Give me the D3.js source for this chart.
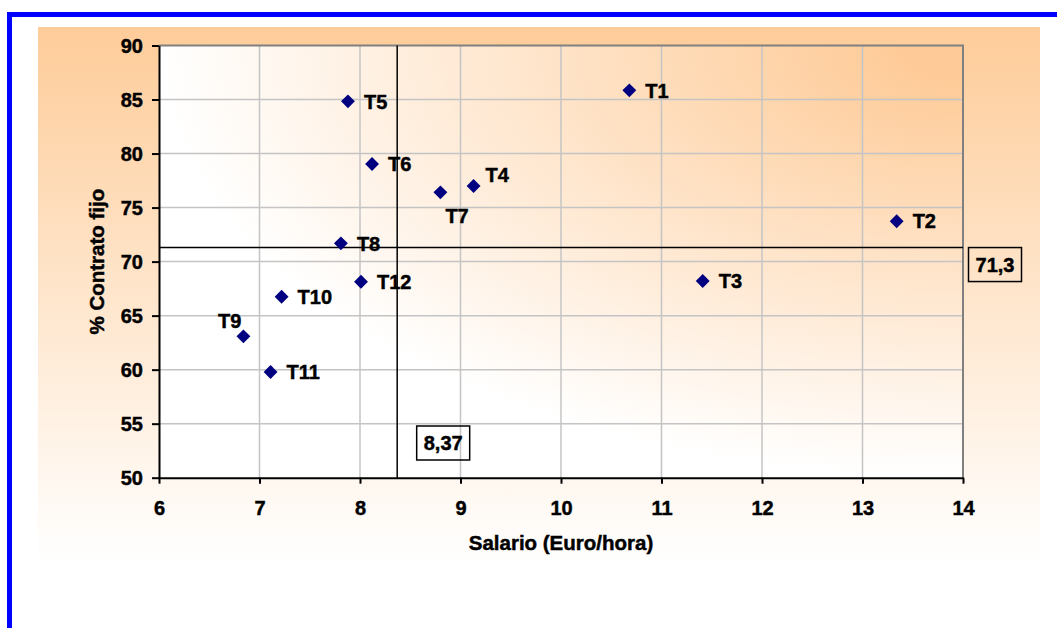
<!DOCTYPE html>
<html>
<head>
<meta charset="utf-8">
<script src="https://cdn.jsdelivr.net/npm/d3@7"></script>
<style>
  body { margin: 0; background: #fff; }
  svg { display: block; }
  svg text { font-family: Arial, "Liberation Sans", sans-serif; font-weight: bold; fill: #000; stroke: #000; stroke-width: 0.45px; }
</style>
</head>
<body>
<svg id="chart" width="1057" height="628"></svg>
<script>
// Titulaciones: salario medio (euro/hora) y % con contrato fijo
const titulaciones = ["T1", "T2", "T3", "T4", "T5", "T6", "T7", "T8", "T9", "T10", "T11", "T12"];
const salario = [10.68, 13.34, 11.41, 9.13, 7.88, 8.12, 8.80, 7.81, 6.84, 7.22, 7.11, 8.01];
const contratoFijo = [85.85, 73.73, 68.2, 77.0, 84.83, 79.03, 76.41, 71.69, 63.08, 66.75, 59.78, 68.14];
// where each label sits relative to its point
const posEtiqueta = ["right", "right", "right", "aboveRight", "right", "right", "below", "right", "aboveLeft", "right", "right", "right"];

const xTicks = [6, 7, 8, 9, 10, 11, 12, 13, 14];
const yTicks = [50, 55, 60, 65, 70, 75, 80, 85, 90];

// average values drawn as reference lines
const salarioMedio = 8.37;
const contratoMedio = 71.3;

const svg = d3.select("#chart");
const defs = svg.append("defs");

const bgGrad = defs.append("linearGradient")
  .attr("id", "bgGrad").attr("x1", 0).attr("y1", 0).attr("x2", 0).attr("y2", 1);
bgGrad.append("stop").attr("offset", "0%").attr("stop-color", "#fecc99");
bgGrad.append("stop").attr("offset", "92%").attr("stop-color", "#ffffff");

const plotGrad = defs.append("radialGradient")
  .attr("id", "plotGrad").attr("cx", 1).attr("cy", 0).attr("r", 1).attr("fx", 1).attr("fy", 0);
plotGrad.append("stop").attr("offset", "8%").attr("stop-color", "#fecb98");
plotGrad.append("stop").attr("offset", "100%").attr("stop-color", "#ffffff");

// frame
svg.append("rect").attr("x", 7).attr("y", 12).attr("width", 1050).attr("height", 5).attr("fill", "#0000ff");
svg.append("rect").attr("x", 7).attr("y", 12).attr("width", 5).attr("height", 616).attr("fill", "#0000ff");

// chart area
svg.append("rect").attr("x", 38).attr("y", 27).attr("width", 1002).attr("height", 583).attr("fill", "url(#bgGrad)");

const pLeft = 159, pRight = 963, pTop = 45.5, pBottom = 477.7;
const x = d3.scaleLinear().domain([6, 14]).range([pLeft, pRight]);
const y = d3.scaleLinear().domain([50, 90]).range([pBottom, pTop]);

svg.append("rect").attr("x", pLeft).attr("y", pTop).attr("width", pRight - pLeft).attr("height", pBottom - pTop)
  .attr("fill", "url(#plotGrad)");

// gridlines
const grid = svg.append("g").attr("stroke", "#c4c4c4").attr("stroke-width", 1.5);
grid.selectAll(".gx").data(xTicks.slice(1, -1)).join("line")
  .attr("x1", d => x(d)).attr("x2", d => x(d)).attr("y1", pTop).attr("y2", pBottom);
grid.selectAll(".gy").data(yTicks.slice(1, -1)).join("line")
  .attr("y1", d => y(d)).attr("y2", d => y(d)).attr("x1", pLeft).attr("x2", pRight);

// plot border (top/right)
svg.append("path").attr("d", `M${pLeft},${pTop}H${pRight}V${pBottom}`)
  .attr("fill", "none").attr("stroke", "#808080").attr("stroke-width", 2);

// axes
const fmt = d3.format("d");
const xAxis = svg.append("g").attr("transform", `translate(0,${pBottom})`)
  .call(d3.axisBottom(x).tickValues(xTicks).tickFormat(fmt).tickSize(6).tickSizeOuter(0));
const yAxis = svg.append("g").attr("transform", `translate(${pLeft},0)`)
  .call(d3.axisLeft(y).tickValues(yTicks).tickFormat(fmt).tickSize(7).tickSizeOuter(0));
[xAxis, yAxis].forEach(a => {
  a.attr("font-family", null).attr("font-size", 20);
  a.select(".domain").attr("stroke", "#000").attr("stroke-width", 2);
  a.selectAll(".tick line").attr("stroke", "#000").attr("stroke-width", 2);
  a.selectAll("text").attr("fill", null);
});
xAxis.selectAll("text").attr("dy", null).attr("y", 37);
yAxis.selectAll("text").attr("x", -16).attr("dy", "0.36em");

// axis titles
svg.append("text").attr("x", (pLeft + pRight) / 2).attr("y", 550).attr("text-anchor", "middle")
  .attr("font-size", 20.5).text("Salario (Euro/hora)");
svg.append("text").attr("transform", `translate(104,${(pTop + pBottom) / 2}) rotate(-90)`)
  .attr("text-anchor", "middle").attr("font-size", 20.5).text("% Contrato fijo");

// reference lines
svg.append("line").attr("x1", x(salarioMedio)).attr("x2", x(salarioMedio)).attr("y1", pTop).attr("y2", pBottom)
  .attr("stroke", "#000").attr("stroke-width", 1.5);
svg.append("line").attr("x1", pLeft).attr("x2", pRight).attr("y1", y(contratoMedio)).attr("y2", y(contratoMedio))
  .attr("stroke", "#000").attr("stroke-width", 1.5);

const coma = v => String(v).replace(".", ",");
function boxLabel(cx, cy, txt) {
  const g = svg.append("g");
  g.append("rect").attr("x", cx - 26.5).attr("y", cy - 17).attr("width", 53).attr("height", 34)
    .attr("fill", "none").attr("stroke", "#000").attr("stroke-width", 1.5);
  g.append("text").attr("x", cx).attr("y", cy).attr("dy", "0.36em").attr("text-anchor", "middle")
    .attr("font-size", 20).text(txt);
}
boxLabel(x(salarioMedio) + 46, 443, coma(salarioMedio));
boxLabel(pRight + 32, y(contratoMedio) + 17, coma(contratoMedio));

// points
const datos = titulaciones.map((t, i) => ({ t, sx: salario[i], cy: contratoFijo[i], pos: posEtiqueta[i] }));
const diamond = d3.symbol().type(d3.symbolSquare).size(96);
svg.append("g").selectAll("path").data(datos).join("path")
  .attr("d", diamond)
  .attr("transform", d => `translate(${x(d.sx)},${y(d.cy)}) rotate(45)`)
  .attr("fill", "#000080");

const offsets = {
  right: { dx: 16, dy: 0, anchor: "start" },
  aboveRight: { dx: 12, dy: -11, anchor: "start" },
  below: { dx: 5, dy: 23, anchor: "start" },
  aboveLeft: { dx: -2, dy: -15.5, anchor: "end" }
};
svg.append("g").selectAll("text").data(datos).join("text")
  .attr("x", d => x(d.sx) + offsets[d.pos].dx)
  .attr("y", d => y(d.cy) + offsets[d.pos].dy)
  .attr("dy", "0.36em")
  .attr("text-anchor", d => offsets[d.pos].anchor)
  .attr("font-size", 20)
  .text(d => d.t);
</script>
</body>
</html>
